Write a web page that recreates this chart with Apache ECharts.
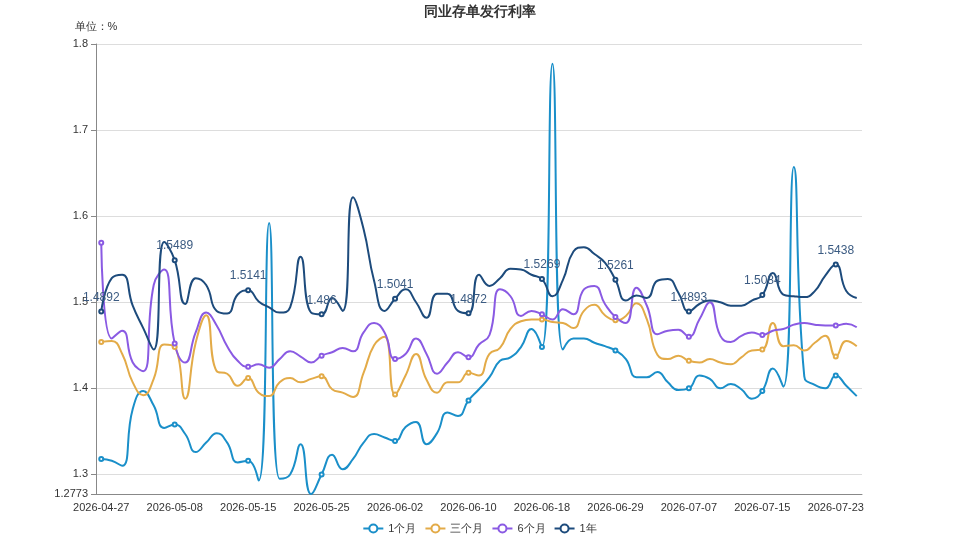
<!DOCTYPE html>
<html>
<head>
  <meta charset="utf-8" />
  <title>同业存单发行利率</title>
  <script src="https://cdn.jsdelivr.net/npm/echarts@6/dist/echarts.min.js"></script>
  <style>
    html, body { margin: 0; padding: 0; background: #fff; }
    #main { width: 959px; height: 539px; }
  </style>
</head>
<body>
  <div id="main"></div>
  <script>
    // 日期
    var dates = [
      '2026-04-27', '2026-04-28', '2026-04-29', '2026-04-30', '2026-05-05', '2026-05-06', '2026-05-07',
      '2026-05-08', '2026-05-09', '2026-05-10', '2026-05-11', '2026-05-12', '2026-05-13', '2026-05-14',
      '2026-05-15', '2026-05-18', '2026-05-19', '2026-05-20', '2026-05-21', '2026-05-22', '2026-05-24',
      '2026-05-25', '2026-05-26', '2026-05-27', '2026-05-28', '2026-05-29', '2026-05-31', '2026-06-01',
      '2026-06-02', '2026-06-03', '2026-06-04', '2026-06-05', '2026-06-07', '2026-06-08', '2026-06-09',
      '2026-06-10', '2026-06-11', '2026-06-12', '2026-06-14', '2026-06-15', '2026-06-16', '2026-06-17',
      '2026-06-18', '2026-06-19', '2026-06-22', '2026-06-23', '2026-06-24', '2026-06-25', '2026-06-26',
      '2026-06-29', '2026-06-30', '2026-07-01', '2026-07-02', '2026-07-03', '2026-07-05', '2026-07-06',
      '2026-07-07', '2026-07-08', '2026-07-09', '2026-07-10', '2026-07-12', '2026-07-13', '2026-07-14',
      '2026-07-15', '2026-07-16', '2026-07-17', '2026-07-19', '2026-07-20', '2026-07-21', '2026-07-22',
      '2026-07-23', '2026-07-24', '2026-07-26'
    ];

    // 1个月
    var m1 = [
      1.318, 1.316, 1.310, 1.376, 1.397, 1.380, 1.354,
      1.358, 1.347, 1.326, 1.337, 1.348, 1.337, 1.314,
      1.316, 1.293, 1.592, 1.295, 1.300, 1.335, 1.2773,
      1.300, 1.323, 1.306, 1.318, 1.337, 1.347, 1.343,
      1.339, 1.355, 1.361, 1.335, 1.348, 1.372, 1.368,
      1.386, 1.399, 1.413, 1.432, 1.436, 1.448, 1.469,
      1.448, 1.777, 1.445, 1.458, 1.458, 1.453, 1.449,
      1.444, 1.434, 1.413, 1.413, 1.419, 1.407, 1.398,
      1.400, 1.415, 1.411, 1.400, 1.405, 1.399, 1.388,
      1.397, 1.423, 1.402, 1.657, 1.414, 1.404, 1.400,
      1.415, 1.403, 1.391
    ];
    // 三个月
    var m3 = [
      1.454, 1.455, 1.440, 1.407, 1.392, 1.411, 1.451,
      1.448, 1.388, 1.453, 1.485, 1.420, 1.417, 1.403,
      1.412, 1.395, 1.391, 1.407, 1.412, 1.407, 1.411,
      1.414, 1.399, 1.395, 1.390, 1.418, 1.450, 1.460,
      1.393, 1.415, 1.440, 1.410, 1.395, 1.407, 1.407,
      1.418, 1.415, 1.440, 1.447, 1.469, 1.478, 1.480,
      1.480, 1.477, 1.476, 1.470, 1.490, 1.497, 1.485,
      1.479, 1.484, 1.499, 1.480, 1.439, 1.434, 1.438,
      1.432, 1.430, 1.434, 1.430, 1.428, 1.436, 1.444,
      1.445, 1.476, 1.449, 1.450, 1.444, 1.453, 1.461,
      1.437, 1.455, 1.449
    ];
    // 6个月
    var m6 = [
      1.569, 1.458, 1.467, 1.430, 1.420, 1.520, 1.538,
      1.452, 1.430, 1.465, 1.488, 1.473, 1.449, 1.432,
      1.425, 1.428, 1.424, 1.434, 1.443, 1.437, 1.430,
      1.438, 1.442, 1.447, 1.443, 1.465, 1.476, 1.465,
      1.434, 1.440, 1.458, 1.440, 1.417, 1.430, 1.442,
      1.436, 1.451, 1.462, 1.515, 1.507, 1.484, 1.490,
      1.486, 1.480, 1.492, 1.486, 1.515, 1.519, 1.498,
      1.483, 1.476, 1.517, 1.496, 1.463, 1.467, 1.468,
      1.460, 1.480, 1.500, 1.461, 1.454, 1.461, 1.465,
      1.462, 1.467, 1.469, 1.474, 1.476, 1.474, 1.473,
      1.473, 1.475, 1.471
    ];
    // 1年
    var y1 = [
      1.4892, 1.528, 1.532, 1.496, 1.470, 1.445, 1.570,
      1.5489, 1.498, 1.528, 1.520, 1.490, 1.487, 1.509,
      1.5141, 1.501, 1.494, 1.488, 1.494, 1.553, 1.488,
      1.486, 1.505, 1.490, 1.622, 1.585, 1.525, 1.490,
      1.5041, 1.515, 1.500, 1.482, 1.510, 1.510, 1.490,
      1.4872, 1.532, 1.519, 1.528, 1.539, 1.538, 1.532,
      1.5269, 1.507, 1.526, 1.559, 1.564, 1.556, 1.546,
      1.5261, 1.502, 1.508, 1.505, 1.525, 1.527, 1.511,
      1.4893, 1.498, 1.502, 1.500, 1.496, 1.496, 1.502,
      1.5084, 1.534, 1.509, 1.507, 1.506, 1.513, 1.531,
      1.5438, 1.513, 1.505
    ];

    var names = ['1个月', '三个月', '6个月', '1年'];
    var colors = ['#1a8fc9', '#e3ab48', '#8a5ae3', '#1d4b7c'];

    var myChart = echarts.init(document.getElementById('main'));

    function mkSeries(name, data, color, showLabel) {
      return {
        name: name,
        type: 'line',
        smooth: true,
        data: data,
        symbol: 'emptyCircle',
        symbolSize: 4,
        showAllSymbol: false, // 只在刻度标签处显示点
        lineStyle: { width: 2, color: color },
        itemStyle: { color: color },
        label: { show: showLabel, position: 'top', fontSize: 12, color: '#3b5b82' },
        emphasis: { disabled: true }
      };
    }

    var option = {
      animation: false,
      color: colors,
      title: {
        text: '同业存单发行利率',
        left: 'center',
        top: 0,
        textStyle: { fontSize: 14, fontWeight: 'bold', color: '#333' }
      },
      legend: {
        bottom: 0,
        left: 'center',
        itemWidth: 20,
        itemHeight: 10,
        textStyle: { fontSize: 11, color: '#333' },
        data: names
      },
      grid: { left: 96, right: 97, top: 44, bottom: 45 },
      xAxis: {
        type: 'category',
        data: dates,
        axisLine: { lineStyle: { color: '#888' } },
        axisTick: { lineStyle: { color: '#888' } },
        axisLabel: { interval: 6, fontSize: 11, color: '#333' }
      },
      yAxis: {
        type: 'value',
        name: '单位：%',
        nameGap: 12,
        nameTextStyle: { fontSize: 11, color: '#333' },
        min: 'dataMin',
        max: 1.8,
        axisLine: { show: true, lineStyle: { color: '#888' } },
        axisTick: { show: true, lineStyle: { color: '#888' } },
        axisLabel: { fontSize: 11, color: '#333' },
        splitLine: { lineStyle: { color: '#ddd' } }
      },
      series: [
        mkSeries(names[0], m1, colors[0], false),
        mkSeries(names[1], m3, colors[1], false),
        mkSeries(names[2], m6, colors[2], false),
        mkSeries(names[3], y1, colors[3], true)
      ]
    };
    myChart.setOption(option);
  </script>
</body>
</html>
